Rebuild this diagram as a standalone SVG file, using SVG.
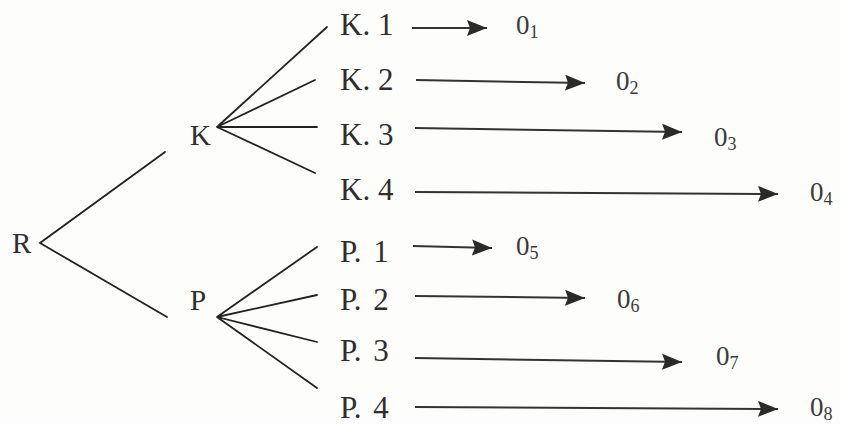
<svg xmlns="http://www.w3.org/2000/svg" width="841" height="425" viewBox="0 0 841 425">
<defs>
<marker id="ah" markerUnits="userSpaceOnUse" markerWidth="20" markerHeight="16" viewBox="0 0 20 16" refX="20" refY="8" orient="auto">
<path d="M0,0 L20,8 L0,16 L3,8 z" fill="#2a2a2a"/>
</marker>
<style>
.t{font-family:"Liberation Serif","Times New Roman",serif;font-size:31px;fill:#2e2e2e}
.r{font-size:29px}
.o{font-family:"Liberation Serif","Times New Roman",serif;font-size:27px;fill:#3a3a3a}
.s{font-size:18px}
.b{stroke:#222;stroke-width:1.8;fill:none;stroke-linecap:round}
.a{stroke:#333;stroke-width:2;fill:none;marker-end:url(#ah)}
</style>
</defs>
<rect width="841" height="425" fill="#fdfdfb"/>
<g id="connectors">
<path class="b" d="M165,152 L40,243 L167,317"/>
<path class="b" d="M327,27 L217,127 L315,80 M217,127 L317,127 M217,127 L315,173"/>
<path class="b" d="M317,247 L217,317 L317,295 M217,317 L317,342 M217,317 L317,388"/>
<line class="a" x1="412" y1="28" x2="487" y2="28"/>
<line class="a" x1="416" y1="80" x2="585" y2="83"/>
<line class="a" x1="415" y1="128" x2="682" y2="132"/>
<line class="a" x1="415" y1="192" x2="778" y2="194"/>
<line class="a" x1="413" y1="246" x2="492" y2="248"/>
<line class="a" x1="415" y1="296" x2="585" y2="298"/>
<line class="a" x1="415" y1="358" x2="682" y2="362"/>
<line class="a" x1="415" y1="407" x2="778" y2="409"/>
</g>
<g id="R"><text class="t r" x="12" y="253">R</text></g>
<g id="K"><text class="t r" x="190" y="145">K</text></g>
<g id="P"><text class="t r" x="190" y="310">P</text></g>
<g id="K1"><text class="t" x="340" y="35">K. 1</text></g>
<g id="K2"><text class="t" x="340" y="90">K. 2</text></g>
<g id="K3"><text class="t" x="340" y="145">K. 3</text></g>
<g id="K4"><text class="t" x="340" y="200">K. 4</text></g>
<g id="P1"><text class="t" x="340" y="262">P. <tspan dx="4">1</tspan></text></g>
<g id="P2"><text class="t" x="340" y="310">P. <tspan dx="4">2</tspan></text></g>
<g id="P3"><text class="t" x="340" y="361">P. <tspan dx="4">3</tspan></text></g>
<g id="P4"><text class="t" x="340" y="418">P. <tspan dx="4">4</tspan></text></g>
<g id="O1"><text class="o" x="516" y="34">0<tspan class="s" dy="4">1</tspan></text></g>
<g id="O2"><text class="o" x="616" y="90">0<tspan class="s" dy="4">2</tspan></text></g>
<g id="O3"><text class="o" x="714" y="146">0<tspan class="s" dy="4">3</tspan></text></g>
<g id="O4"><text class="o" x="810" y="201">0<tspan class="s" dy="4">4</tspan></text></g>
<g id="O5"><text class="o" x="516" y="255">0<tspan class="s" dy="4">5</tspan></text></g>
<g id="O6"><text class="o" x="617" y="308">0<tspan class="s" dy="4">6</tspan></text></g>
<g id="O7"><text class="o" x="716" y="365">0<tspan class="s" dy="4">7</tspan></text></g>
<g id="O8"><text class="o" x="810" y="416">0<tspan class="s" dy="4">8</tspan></text></g>
</svg>
